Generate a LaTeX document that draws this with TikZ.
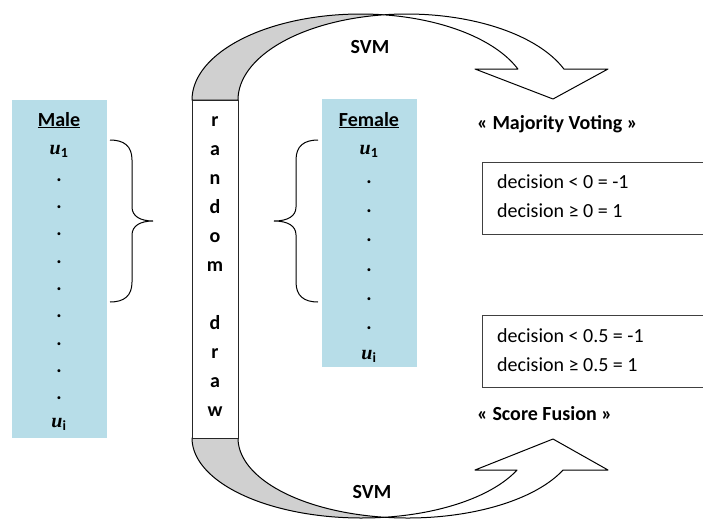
\documentclass[tikz,border=0pt]{standalone}
\usepackage{fontspec}
\setmainfont{Carlito}
\newfontfamily\varfont{Liberation Serif}
\definecolor{listblue}{RGB}{183,221,232}
\definecolor{backgrey}{RGB}{208,208,208}
\newcommand{\uvar}[1]{{\varfont\bfseries\itshape u}\textsubscript{\bfseries #1}}
\begin{document}
\begin{tikzpicture}[x=1pt,y=-1pt,
  every node/.style={font=\fontsize{20}{24}\selectfont, inner sep=0pt},
  txt/.style={anchor=base},
  bold/.style={font=\fontsize{20}{24}\selectfont\bfseries},
  listbox/.style={fill=listblue, draw=none, minimum width=95pt, anchor=north west},
  drawbox/.style={draw=black!85, line width=1.1pt, fill=white, anchor=north west},
  rulebox/.style={draw=black!75, line width=1.4pt, fill=white, minimum width=260pt, minimum height=72pt, anchor=north west},
  ribbon/.style={draw=black, line width=1pt, line join=round},
  bracket/.style={draw=black, line width=1pt}]
\useasboundingbox (0,0) rectangle (703,520);
\clip (0,0) rectangle (703,520);

% ---- male list ----
\node[listbox, minimum height=338pt] (male) at (12,100) {};
\node[bold, txt] (maleT) at (59,126) {\underline{Male}};
\node[txt] (mu1) at (59,154) {\uvar{1}};
\foreach \k in {1,...,9}
  \node[bold, txt] (mdot\k) at (59,{154+27.3*\k}) {.};
\node[txt] (mui) at (59,427) {\uvar{i}};

% ---- female list ----
\node[listbox, minimum height=268pt] (female) at (322,99) {};
\node[bold, txt] (femaleT) at (369,126) {\underline{Female}};
\node[txt] (fu1) at (369,154) {\uvar{1}};
\foreach \k in {1,...,6}
  \node[bold, txt] (fdot\k) at (369,{154+29.3*\k}) {.};
\node[txt] (fui) at (369,359) {\uvar{i}};

% ---- braces ----
\draw[bracket] (110,140) .. controls (124,140) and (132,146) .. (132,160)
  -- (132,207) .. controls (132,216) and (140,221) .. (153,221)
  .. controls (140,221) and (132,226) .. (132,235)
  -- (132,282) .. controls (132,296) and (124,302) .. (110,302);
\draw[bracket] (318,140) .. controls (304,140) and (296,146) .. (296,160)
  -- (296,207) .. controls (296,216) and (288,221) .. (274,221)
  .. controls (288,221) and (296,226) .. (296,235)
  -- (296,282) .. controls (296,296) and (304,302) .. (318,302);

% ---- upper curved arrow ----
\filldraw[ribbon, fill=backgrey, variable=\t, samples=60]
  plot[domain=180:277.84] ({360.6+168.6*cos(\t)},{100+86*sin(\t)})
  -- plot[domain=262.16:180] ({406.6+168.6*cos(\t)},{100+86*sin(\t)}) -- cycle;
\filldraw[ribbon, fill=white, variable=\t, samples=60]
  plot[domain=262.16:338.9] ({406.6+168.6*cos(\t)},{100+86*sin(\t)})
  -- (608,69) -- (553,99) -- (475,69)
  -- plot[domain=338.9:277.84] ({360.6+168.6*cos(\t)},{100+86*sin(\t)}) -- cycle;

% ---- lower curved arrow ----
\filldraw[ribbon, fill=backgrey, variable=\t, samples=60]
  plot[domain=180:82.2] ({361.6+169.6*cos(\t)},{438+80*sin(\t)})
  -- plot[domain=97.8:180] ({407.6+169.6*cos(\t)},{438+80*sin(\t)}) -- cycle;
\filldraw[ribbon, fill=white, variable=\t, samples=60]
  plot[domain=97.8:23.6] ({407.6+169.6*cos(\t)},{438+80*sin(\t)})
  -- (608,470) -- (553,439) -- (475,470)
  -- plot[domain=23.6:82.2] ({361.6+169.6*cos(\t)},{438+80*sin(\t)}) -- cycle;

% ---- random draw column ----
\node[drawbox, minimum width=46pt, minimum height=338pt] (rd) at (192,100) {};
\foreach \ch/\k in {r/0,a/1,n/2,d/3,o/4,m/5,d/7,r/8,a/9,w/10}
  \node[bold, txt] (rd\k) at (215,{126.5+29*\k}) {\ch};

% ---- classifier labels ----
\node[bold, txt] (svmTop) at (370,53) {SVM};
\node[bold, txt] (svmBot) at (372,498) {SVM};

% ---- decision rules ----
\node[bold, anchor=base west] (mv) at (477,129) {« Majority Voting »};
\node[rulebox] (rule1) at (482,162) {};
\node[anchor=base west] (r1a) at (497,188) {decision < 0 = -1};
\node[anchor=base west] (r1b) at (497,217) {decision ≥ 0 = 1};

\node[rulebox] (rule2) at (482,315) {};
\node[anchor=base west] (r2a) at (497,342) {decision < 0.5 = -1};
\node[anchor=base west] (r2b) at (497,371) {decision ≥ 0.5 = 1};
\node[bold, anchor=base west] (sf) at (477,420) {« Score Fusion »};
\end{tikzpicture}
\end{document}
